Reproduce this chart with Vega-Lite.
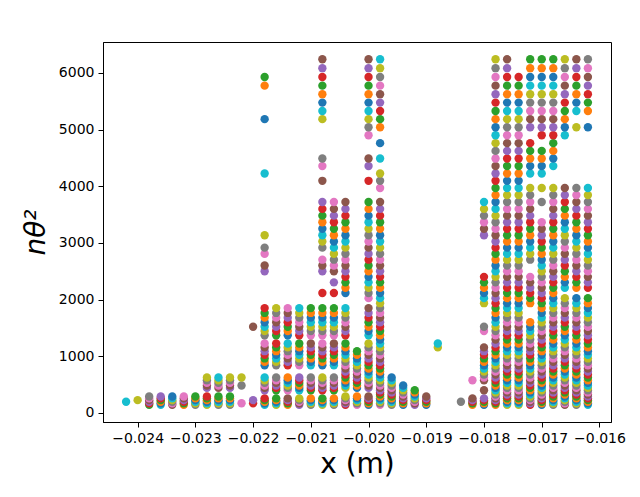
{
"$schema":"https://vega.github.io/schema/vega-lite/v6.json",
"width":508,"height":380,
"autosize":{"type":"none"},
"padding":{"left":103,"top":42,"right":29,"bottom":75},
"background":"white",
"config":{"view":{"stroke":"black","strokeWidth":1},"font":"DejaVu Sans"},
"data":{"values":[
{"x":-0.0242,"y":196,"c":9},
{"x":-0.024,"y":225,"c":8},
{"x":-0.0238,"y":144,"c":2},{"x":-0.0238,"y":169,"c":3},{"x":-0.0238,"y":196,"c":4},{"x":-0.0238,"y":225,"c":5},{"x":-0.0238,"y":256,"c":6},{"x":-0.0238,"y":289,"c":7},
{"x":-0.0236,"y":144,"c":9},{"x":-0.0236,"y":169,"c":0},{"x":-0.0236,"y":196,"c":1},{"x":-0.0236,"y":225,"c":2},{"x":-0.0236,"y":256,"c":3},{"x":-0.0236,"y":289,"c":4},
{"x":-0.0234,"y":144,"c":5},{"x":-0.0234,"y":169,"c":6},{"x":-0.0234,"y":196,"c":7},{"x":-0.0234,"y":225,"c":8},{"x":-0.0234,"y":256,"c":9},{"x":-0.0234,"y":289,"c":0},
{"x":-0.0232,"y":144,"c":1},{"x":-0.0232,"y":169,"c":2},{"x":-0.0232,"y":196,"c":3},{"x":-0.0232,"y":225,"c":4},{"x":-0.0232,"y":256,"c":5},{"x":-0.0232,"y":289,"c":6},
{"x":-0.023,"y":144,"c":7},{"x":-0.023,"y":169,"c":8},{"x":-0.023,"y":196,"c":9},{"x":-0.023,"y":225,"c":0},{"x":-0.023,"y":256,"c":1},{"x":-0.023,"y":289,"c":2},
{"x":-0.0228,"y":144,"c":8},{"x":-0.0228,"y":169,"c":9},{"x":-0.0228,"y":196,"c":0},{"x":-0.0228,"y":225,"c":1},{"x":-0.0228,"y":256,"c":2},{"x":-0.0228,"y":289,"c":3},{"x":-0.0228,"y":441,"c":4},{"x":-0.0228,"y":484,"c":5},{"x":-0.0228,"y":529,"c":6},{"x":-0.0228,"y":576,"c":7},{"x":-0.0228,"y":625,"c":8},
{"x":-0.0226,"y":144,"c":7},{"x":-0.0226,"y":169,"c":8},{"x":-0.0226,"y":196,"c":9},{"x":-0.0226,"y":225,"c":0},{"x":-0.0226,"y":256,"c":1},{"x":-0.0226,"y":289,"c":2},{"x":-0.0226,"y":441,"c":5},{"x":-0.0226,"y":484,"c":6},{"x":-0.0226,"y":529,"c":7},{"x":-0.0226,"y":576,"c":8},{"x":-0.0226,"y":625,"c":9},
{"x":-0.0224,"y":144,"c":7},{"x":-0.0224,"y":169,"c":8},{"x":-0.0224,"y":196,"c":9},{"x":-0.0224,"y":225,"c":0},{"x":-0.0224,"y":256,"c":1},{"x":-0.0224,"y":289,"c":2},{"x":-0.0224,"y":441,"c":4},{"x":-0.0224,"y":484,"c":5},{"x":-0.0224,"y":529,"c":6},{"x":-0.0224,"y":576,"c":7},{"x":-0.0224,"y":625,"c":8},
{"x":-0.0222,"y":169,"c":6},{"x":-0.0222,"y":484,"c":7},{"x":-0.0222,"y":625,"c":8},
{"x":-0.022,"y":169,"c":3},{"x":-0.022,"y":225,"c":4},{"x":-0.022,"y":1521,"c":5},
{"x":-0.0218,"y":144,"c":9},{"x":-0.0218,"y":169,"c":0},{"x":-0.0218,"y":196,"c":1},{"x":-0.0218,"y":225,"c":2},{"x":-0.0218,"y":256,"c":3},{"x":-0.0218,"y":400,"c":4},{"x":-0.0218,"y":441,"c":5},{"x":-0.0218,"y":484,"c":6},{"x":-0.0218,"y":529,"c":7},{"x":-0.0218,"y":576,"c":8},{"x":-0.0218,"y":625,"c":9},{"x":-0.0218,"y":841,"c":0},{"x":-0.0218,"y":900,"c":1},{"x":-0.0218,"y":961,"c":2},{"x":-0.0218,"y":1024,"c":3},{"x":-0.0218,"y":1089,"c":4},{"x":-0.0218,"y":1156,"c":5},{"x":-0.0218,"y":1225,"c":6},{"x":-0.0218,"y":1369,"c":7},{"x":-0.0218,"y":1444,"c":8},{"x":-0.0218,"y":1521,"c":9},{"x":-0.0218,"y":1600,"c":0},{"x":-0.0218,"y":1681,"c":1},{"x":-0.0218,"y":1764,"c":2},{"x":-0.0218,"y":1849,"c":3},{"x":-0.0218,"y":2500,"c":4},{"x":-0.0218,"y":2601,"c":5},{"x":-0.0218,"y":2809,"c":6},{"x":-0.0218,"y":2916,"c":7},{"x":-0.0218,"y":3136,"c":8},{"x":-0.0218,"y":4225,"c":9},{"x":-0.0218,"y":5184,"c":0},{"x":-0.0218,"y":5776,"c":1},{"x":-0.0218,"y":5929,"c":2},
{"x":-0.0216,"y":144,"c":8},{"x":-0.0216,"y":169,"c":9},{"x":-0.0216,"y":196,"c":0},{"x":-0.0216,"y":225,"c":1},{"x":-0.0216,"y":256,"c":2},{"x":-0.0216,"y":400,"c":2},{"x":-0.0216,"y":441,"c":3},{"x":-0.0216,"y":484,"c":4},{"x":-0.0216,"y":529,"c":5},{"x":-0.0216,"y":576,"c":6},{"x":-0.0216,"y":625,"c":7},{"x":-0.0216,"y":841,"c":7},{"x":-0.0216,"y":900,"c":8},{"x":-0.0216,"y":961,"c":9},{"x":-0.0216,"y":1024,"c":0},{"x":-0.0216,"y":1089,"c":1},{"x":-0.0216,"y":1156,"c":2},{"x":-0.0216,"y":1225,"c":3},{"x":-0.0216,"y":1369,"c":2},{"x":-0.0216,"y":1444,"c":3},{"x":-0.0216,"y":1521,"c":4},{"x":-0.0216,"y":1600,"c":5},{"x":-0.0216,"y":1681,"c":6},{"x":-0.0216,"y":1764,"c":7},{"x":-0.0216,"y":1849,"c":8},
{"x":-0.0214,"y":144,"c":1},{"x":-0.0214,"y":169,"c":2},{"x":-0.0214,"y":196,"c":3},{"x":-0.0214,"y":225,"c":4},{"x":-0.0214,"y":256,"c":5},{"x":-0.0214,"y":400,"c":6},{"x":-0.0214,"y":441,"c":7},{"x":-0.0214,"y":484,"c":8},{"x":-0.0214,"y":529,"c":9},{"x":-0.0214,"y":576,"c":0},{"x":-0.0214,"y":625,"c":1},{"x":-0.0214,"y":841,"c":3},{"x":-0.0214,"y":900,"c":4},{"x":-0.0214,"y":961,"c":5},{"x":-0.0214,"y":1024,"c":6},{"x":-0.0214,"y":1089,"c":7},{"x":-0.0214,"y":1156,"c":8},{"x":-0.0214,"y":1225,"c":9},{"x":-0.0214,"y":1369,"c":0},{"x":-0.0214,"y":1444,"c":1},{"x":-0.0214,"y":1521,"c":2},{"x":-0.0214,"y":1600,"c":3},{"x":-0.0214,"y":1681,"c":4},{"x":-0.0214,"y":1764,"c":5},{"x":-0.0214,"y":1849,"c":6},
{"x":-0.0212,"y":144,"c":4},{"x":-0.0212,"y":169,"c":5},{"x":-0.0212,"y":196,"c":6},{"x":-0.0212,"y":225,"c":7},{"x":-0.0212,"y":256,"c":8},{"x":-0.0212,"y":400,"c":9},{"x":-0.0212,"y":441,"c":0},{"x":-0.0212,"y":484,"c":1},{"x":-0.0212,"y":529,"c":2},{"x":-0.0212,"y":576,"c":3},{"x":-0.0212,"y":625,"c":4},{"x":-0.0212,"y":841,"c":6},{"x":-0.0212,"y":900,"c":7},{"x":-0.0212,"y":961,"c":8},{"x":-0.0212,"y":1024,"c":9},{"x":-0.0212,"y":1089,"c":0},{"x":-0.0212,"y":1156,"c":1},{"x":-0.0212,"y":1225,"c":2},{"x":-0.0212,"y":1369,"c":3},{"x":-0.0212,"y":1444,"c":4},{"x":-0.0212,"y":1521,"c":5},{"x":-0.0212,"y":1600,"c":6},{"x":-0.0212,"y":1681,"c":7},{"x":-0.0212,"y":1764,"c":8},{"x":-0.0212,"y":1849,"c":9},
{"x":-0.021,"y":144,"c":7},{"x":-0.021,"y":169,"c":8},{"x":-0.021,"y":196,"c":9},{"x":-0.021,"y":225,"c":0},{"x":-0.021,"y":256,"c":1},{"x":-0.021,"y":400,"c":2},{"x":-0.021,"y":441,"c":3},{"x":-0.021,"y":484,"c":4},{"x":-0.021,"y":529,"c":5},{"x":-0.021,"y":576,"c":6},{"x":-0.021,"y":625,"c":7},{"x":-0.021,"y":841,"c":9},{"x":-0.021,"y":900,"c":0},{"x":-0.021,"y":961,"c":1},{"x":-0.021,"y":1024,"c":2},{"x":-0.021,"y":1089,"c":3},{"x":-0.021,"y":1156,"c":4},{"x":-0.021,"y":1225,"c":5},{"x":-0.021,"y":1369,"c":6},{"x":-0.021,"y":1444,"c":7},{"x":-0.021,"y":1521,"c":8},{"x":-0.021,"y":1600,"c":9},{"x":-0.021,"y":1681,"c":0},{"x":-0.021,"y":1764,"c":1},{"x":-0.021,"y":1849,"c":2},
{"x":-0.0208,"y":144,"c":8},{"x":-0.0208,"y":169,"c":9},{"x":-0.0208,"y":196,"c":0},{"x":-0.0208,"y":225,"c":1},{"x":-0.0208,"y":256,"c":2},{"x":-0.0208,"y":400,"c":3},{"x":-0.0208,"y":441,"c":4},{"x":-0.0208,"y":484,"c":5},{"x":-0.0208,"y":529,"c":6},{"x":-0.0208,"y":576,"c":7},{"x":-0.0208,"y":625,"c":8},{"x":-0.0208,"y":841,"c":0},{"x":-0.0208,"y":900,"c":1},{"x":-0.0208,"y":961,"c":2},{"x":-0.0208,"y":1024,"c":3},{"x":-0.0208,"y":1089,"c":4},{"x":-0.0208,"y":1156,"c":5},{"x":-0.0208,"y":1225,"c":6},{"x":-0.0208,"y":1369,"c":6},{"x":-0.0208,"y":1444,"c":7},{"x":-0.0208,"y":1521,"c":8},{"x":-0.0208,"y":1600,"c":9},{"x":-0.0208,"y":1681,"c":0},{"x":-0.0208,"y":1764,"c":1},{"x":-0.0208,"y":1849,"c":2},{"x":-0.0208,"y":2116,"c":3},{"x":-0.0208,"y":2500,"c":4},{"x":-0.0208,"y":2601,"c":5},{"x":-0.0208,"y":2704,"c":6},{"x":-0.0208,"y":2916,"c":7},{"x":-0.0208,"y":3025,"c":8},{"x":-0.0208,"y":3136,"c":9},{"x":-0.0208,"y":3249,"c":0},{"x":-0.0208,"y":3364,"c":1},{"x":-0.0208,"y":3481,"c":2},{"x":-0.0208,"y":3600,"c":3},{"x":-0.0208,"y":3721,"c":4},{"x":-0.0208,"y":4096,"c":5},{"x":-0.0208,"y":4356,"c":6},{"x":-0.0208,"y":4489,"c":7},{"x":-0.0208,"y":5184,"c":8},{"x":-0.0208,"y":5329,"c":9},{"x":-0.0208,"y":5476,"c":0},{"x":-0.0208,"y":5625,"c":1},{"x":-0.0208,"y":5776,"c":2},{"x":-0.0208,"y":5929,"c":3},{"x":-0.0208,"y":6084,"c":4},{"x":-0.0208,"y":6241,"c":5},
{"x":-0.0206,"y":144,"c":7},{"x":-0.0206,"y":169,"c":8},{"x":-0.0206,"y":196,"c":9},{"x":-0.0206,"y":225,"c":0},{"x":-0.0206,"y":256,"c":1},{"x":-0.0206,"y":400,"c":2},{"x":-0.0206,"y":441,"c":3},{"x":-0.0206,"y":484,"c":4},{"x":-0.0206,"y":529,"c":5},{"x":-0.0206,"y":576,"c":6},{"x":-0.0206,"y":625,"c":7},{"x":-0.0206,"y":841,"c":9},{"x":-0.0206,"y":900,"c":0},{"x":-0.0206,"y":961,"c":1},{"x":-0.0206,"y":1024,"c":2},{"x":-0.0206,"y":1089,"c":3},{"x":-0.0206,"y":1156,"c":4},{"x":-0.0206,"y":1225,"c":5},{"x":-0.0206,"y":1369,"c":6},{"x":-0.0206,"y":1444,"c":7},{"x":-0.0206,"y":1521,"c":8},{"x":-0.0206,"y":1600,"c":9},{"x":-0.0206,"y":1681,"c":0},{"x":-0.0206,"y":1764,"c":1},{"x":-0.0206,"y":1849,"c":2},{"x":-0.0206,"y":2116,"c":3},{"x":-0.0206,"y":2304,"c":4},{"x":-0.0206,"y":2500,"c":5},{"x":-0.0206,"y":2601,"c":6},{"x":-0.0206,"y":2704,"c":7},{"x":-0.0206,"y":2809,"c":8},{"x":-0.0206,"y":2916,"c":9},{"x":-0.0206,"y":3025,"c":0},{"x":-0.0206,"y":3136,"c":1},{"x":-0.0206,"y":3249,"c":2},{"x":-0.0206,"y":3364,"c":3},{"x":-0.0206,"y":3481,"c":4},{"x":-0.0206,"y":3600,"c":5},{"x":-0.0206,"y":3721,"c":6},
{"x":-0.0204,"y":144,"c":3},{"x":-0.0204,"y":169,"c":4},{"x":-0.0204,"y":196,"c":5},{"x":-0.0204,"y":225,"c":6},{"x":-0.0204,"y":256,"c":7},{"x":-0.0204,"y":289,"c":8},{"x":-0.0204,"y":441,"c":8},{"x":-0.0204,"y":484,"c":9},{"x":-0.0204,"y":529,"c":0},{"x":-0.0204,"y":576,"c":1},{"x":-0.0204,"y":625,"c":2},{"x":-0.0204,"y":676,"c":3},{"x":-0.0204,"y":729,"c":4},{"x":-0.0204,"y":784,"c":5},{"x":-0.0204,"y":841,"c":6},{"x":-0.0204,"y":900,"c":7},{"x":-0.0204,"y":961,"c":8},{"x":-0.0204,"y":1024,"c":9},{"x":-0.0204,"y":1089,"c":0},{"x":-0.0204,"y":1156,"c":1},{"x":-0.0204,"y":1225,"c":2},{"x":-0.0204,"y":1369,"c":3},{"x":-0.0204,"y":1444,"c":4},{"x":-0.0204,"y":1521,"c":5},{"x":-0.0204,"y":1600,"c":6},{"x":-0.0204,"y":1681,"c":7},{"x":-0.0204,"y":1764,"c":8},{"x":-0.0204,"y":1849,"c":9},{"x":-0.0204,"y":2116,"c":0},{"x":-0.0204,"y":2209,"c":1},{"x":-0.0204,"y":2304,"c":2},{"x":-0.0204,"y":2401,"c":3},{"x":-0.0204,"y":2500,"c":4},{"x":-0.0204,"y":2601,"c":5},{"x":-0.0204,"y":2704,"c":6},{"x":-0.0204,"y":2809,"c":7},{"x":-0.0204,"y":2916,"c":8},{"x":-0.0204,"y":3025,"c":9},{"x":-0.0204,"y":3136,"c":0},{"x":-0.0204,"y":3249,"c":1},{"x":-0.0204,"y":3364,"c":2},{"x":-0.0204,"y":3481,"c":3},{"x":-0.0204,"y":3600,"c":4},{"x":-0.0204,"y":3721,"c":5},
{"x":-0.0202,"y":144,"c":6},{"x":-0.0202,"y":169,"c":7},{"x":-0.0202,"y":196,"c":8},{"x":-0.0202,"y":225,"c":9},{"x":-0.0202,"y":256,"c":0},{"x":-0.0202,"y":289,"c":1},{"x":-0.0202,"y":441,"c":0},{"x":-0.0202,"y":484,"c":1},{"x":-0.0202,"y":529,"c":2},{"x":-0.0202,"y":576,"c":3},{"x":-0.0202,"y":625,"c":4},{"x":-0.0202,"y":676,"c":5},{"x":-0.0202,"y":729,"c":6},{"x":-0.0202,"y":784,"c":7},{"x":-0.0202,"y":841,"c":8},{"x":-0.0202,"y":900,"c":9},{"x":-0.0202,"y":961,"c":0},{"x":-0.0202,"y":1024,"c":1},{"x":-0.0202,"y":1089,"c":2},
{"x":-0.02,"y":144,"c":0},{"x":-0.02,"y":169,"c":1},{"x":-0.02,"y":196,"c":2},{"x":-0.02,"y":225,"c":3},{"x":-0.02,"y":256,"c":4},{"x":-0.02,"y":289,"c":5},{"x":-0.02,"y":441,"c":4},{"x":-0.02,"y":484,"c":5},{"x":-0.02,"y":529,"c":6},{"x":-0.02,"y":576,"c":7},{"x":-0.02,"y":625,"c":8},{"x":-0.02,"y":676,"c":9},{"x":-0.02,"y":729,"c":0},{"x":-0.02,"y":784,"c":1},{"x":-0.02,"y":841,"c":2},{"x":-0.02,"y":900,"c":3},{"x":-0.02,"y":961,"c":4},{"x":-0.02,"y":1024,"c":5},{"x":-0.02,"y":1089,"c":6},{"x":-0.02,"y":1156,"c":7},{"x":-0.02,"y":1225,"c":8},{"x":-0.02,"y":1369,"c":9},{"x":-0.02,"y":1444,"c":0},{"x":-0.02,"y":1521,"c":1},{"x":-0.02,"y":1600,"c":2},{"x":-0.02,"y":1681,"c":3},{"x":-0.02,"y":1764,"c":4},{"x":-0.02,"y":1849,"c":5},{"x":-0.02,"y":2025,"c":6},{"x":-0.02,"y":2116,"c":7},{"x":-0.02,"y":2209,"c":8},{"x":-0.02,"y":2304,"c":9},{"x":-0.02,"y":2401,"c":0},{"x":-0.02,"y":2500,"c":1},{"x":-0.02,"y":2601,"c":2},{"x":-0.02,"y":2704,"c":3},{"x":-0.02,"y":2809,"c":4},{"x":-0.02,"y":2916,"c":5},{"x":-0.02,"y":3025,"c":6},{"x":-0.02,"y":3136,"c":7},{"x":-0.02,"y":3249,"c":8},{"x":-0.02,"y":3364,"c":9},{"x":-0.02,"y":3481,"c":0},{"x":-0.02,"y":3600,"c":1},{"x":-0.02,"y":3721,"c":2},{"x":-0.02,"y":4096,"c":3},{"x":-0.02,"y":4356,"c":4},{"x":-0.02,"y":4489,"c":5},{"x":-0.02,"y":4900,"c":6},{"x":-0.02,"y":5041,"c":7},{"x":-0.02,"y":5184,"c":8},{"x":-0.02,"y":5329,"c":9},{"x":-0.02,"y":5476,"c":0},{"x":-0.02,"y":5625,"c":1},{"x":-0.02,"y":5776,"c":2},{"x":-0.02,"y":5929,"c":3},{"x":-0.02,"y":6084,"c":4},{"x":-0.02,"y":6241,"c":5},
{"x":-0.0198,"y":144,"c":6},{"x":-0.0198,"y":169,"c":7},{"x":-0.0198,"y":196,"c":8},{"x":-0.0198,"y":225,"c":9},{"x":-0.0198,"y":256,"c":0},{"x":-0.0198,"y":289,"c":1},{"x":-0.0198,"y":324,"c":2},{"x":-0.0198,"y":361,"c":3},{"x":-0.0198,"y":400,"c":4},{"x":-0.0198,"y":441,"c":5},{"x":-0.0198,"y":484,"c":6},{"x":-0.0198,"y":529,"c":7},{"x":-0.0198,"y":576,"c":8},{"x":-0.0198,"y":625,"c":9},{"x":-0.0198,"y":676,"c":0},{"x":-0.0198,"y":729,"c":1},{"x":-0.0198,"y":784,"c":2},{"x":-0.0198,"y":841,"c":3},{"x":-0.0198,"y":900,"c":4},{"x":-0.0198,"y":961,"c":5},{"x":-0.0198,"y":1024,"c":6},{"x":-0.0198,"y":1089,"c":7},{"x":-0.0198,"y":1156,"c":8},{"x":-0.0198,"y":1225,"c":9},{"x":-0.0198,"y":1296,"c":0},{"x":-0.0198,"y":1369,"c":1},{"x":-0.0198,"y":1444,"c":2},{"x":-0.0198,"y":1521,"c":3},{"x":-0.0198,"y":1600,"c":4},{"x":-0.0198,"y":1681,"c":5},{"x":-0.0198,"y":1764,"c":6},{"x":-0.0198,"y":1849,"c":7},{"x":-0.0198,"y":1936,"c":8},{"x":-0.0198,"y":2025,"c":9},{"x":-0.0198,"y":2116,"c":0},{"x":-0.0198,"y":2209,"c":1},{"x":-0.0198,"y":2304,"c":2},{"x":-0.0198,"y":2401,"c":3},{"x":-0.0198,"y":2500,"c":4},{"x":-0.0198,"y":2601,"c":5},{"x":-0.0198,"y":2704,"c":6},{"x":-0.0198,"y":2809,"c":7},{"x":-0.0198,"y":2916,"c":8},{"x":-0.0198,"y":3025,"c":9},{"x":-0.0198,"y":3136,"c":0},{"x":-0.0198,"y":3249,"c":1},{"x":-0.0198,"y":3364,"c":2},{"x":-0.0198,"y":3481,"c":3},{"x":-0.0198,"y":3600,"c":4},{"x":-0.0198,"y":3721,"c":5},{"x":-0.0198,"y":3969,"c":6},{"x":-0.0198,"y":4096,"c":7},{"x":-0.0198,"y":4225,"c":8},{"x":-0.0198,"y":4489,"c":9},{"x":-0.0198,"y":4761,"c":0},{"x":-0.0198,"y":5041,"c":1},{"x":-0.0198,"y":5184,"c":2},{"x":-0.0198,"y":5329,"c":3},{"x":-0.0198,"y":5476,"c":4},{"x":-0.0198,"y":5625,"c":5},{"x":-0.0198,"y":5776,"c":6},{"x":-0.0198,"y":5929,"c":7},{"x":-0.0198,"y":6084,"c":8},{"x":-0.0198,"y":6241,"c":9},
{"x":-0.0196,"y":144,"c":7},{"x":-0.0196,"y":169,"c":8},{"x":-0.0196,"y":196,"c":9},{"x":-0.0196,"y":225,"c":0},{"x":-0.0196,"y":256,"c":1},{"x":-0.0196,"y":289,"c":2},{"x":-0.0196,"y":324,"c":3},{"x":-0.0196,"y":361,"c":4},{"x":-0.0196,"y":400,"c":5},{"x":-0.0196,"y":441,"c":6},{"x":-0.0196,"y":484,"c":7},{"x":-0.0196,"y":529,"c":8},{"x":-0.0196,"y":576,"c":9},{"x":-0.0196,"y":625,"c":0},
{"x":-0.0194,"y":144,"c":0},{"x":-0.0194,"y":169,"c":1},{"x":-0.0194,"y":196,"c":2},{"x":-0.0194,"y":225,"c":3},{"x":-0.0194,"y":256,"c":4},{"x":-0.0194,"y":289,"c":5},{"x":-0.0194,"y":324,"c":6},{"x":-0.0194,"y":361,"c":7},{"x":-0.0194,"y":400,"c":8},{"x":-0.0194,"y":441,"c":9},{"x":-0.0194,"y":484,"c":0},
{"x":-0.0192,"y":144,"c":4},{"x":-0.0192,"y":169,"c":5},{"x":-0.0192,"y":196,"c":6},{"x":-0.0192,"y":225,"c":7},{"x":-0.0192,"y":256,"c":8},{"x":-0.0192,"y":289,"c":9},{"x":-0.0192,"y":324,"c":0},{"x":-0.0192,"y":361,"c":1},{"x":-0.0192,"y":400,"c":2},
{"x":-0.019,"y":144,"c":0},{"x":-0.019,"y":169,"c":1},{"x":-0.019,"y":196,"c":2},{"x":-0.019,"y":225,"c":3},{"x":-0.019,"y":256,"c":4},{"x":-0.019,"y":289,"c":5},
{"x":-0.0188,"y":1156,"c":8},{"x":-0.0188,"y":1225,"c":9},
{"x":-0.0184,"y":196,"c":7},
{"x":-0.0182,"y":144,"c":1},{"x":-0.0182,"y":169,"c":2},{"x":-0.0182,"y":196,"c":3},{"x":-0.0182,"y":225,"c":4},{"x":-0.0182,"y":256,"c":5},{"x":-0.0182,"y":576,"c":6},
{"x":-0.018,"y":144,"c":0},{"x":-0.018,"y":169,"c":1},{"x":-0.018,"y":196,"c":2},{"x":-0.018,"y":225,"c":3},{"x":-0.018,"y":256,"c":4},{"x":-0.018,"y":400,"c":5},{"x":-0.018,"y":576,"c":5},{"x":-0.018,"y":625,"c":6},{"x":-0.018,"y":676,"c":7},{"x":-0.018,"y":729,"c":8},{"x":-0.018,"y":784,"c":9},{"x":-0.018,"y":841,"c":0},{"x":-0.018,"y":900,"c":1},{"x":-0.018,"y":961,"c":2},{"x":-0.018,"y":1024,"c":3},{"x":-0.018,"y":1089,"c":4},{"x":-0.018,"y":1156,"c":5},{"x":-0.018,"y":1444,"c":6},{"x":-0.018,"y":1521,"c":7},{"x":-0.018,"y":1936,"c":8},{"x":-0.018,"y":2025,"c":9},{"x":-0.018,"y":2116,"c":0},{"x":-0.018,"y":2209,"c":1},{"x":-0.018,"y":2304,"c":2},{"x":-0.018,"y":2401,"c":3},{"x":-0.018,"y":3136,"c":4},{"x":-0.018,"y":3249,"c":5},{"x":-0.018,"y":3364,"c":6},{"x":-0.018,"y":3481,"c":7},{"x":-0.018,"y":3600,"c":8},{"x":-0.018,"y":3721,"c":9},
{"x":-0.0178,"y":144,"c":1},{"x":-0.0178,"y":169,"c":2},{"x":-0.0178,"y":196,"c":3},{"x":-0.0178,"y":225,"c":4},{"x":-0.0178,"y":256,"c":5},{"x":-0.0178,"y":289,"c":6},{"x":-0.0178,"y":324,"c":7},{"x":-0.0178,"y":361,"c":8},{"x":-0.0178,"y":400,"c":9},{"x":-0.0178,"y":441,"c":0},{"x":-0.0178,"y":484,"c":1},{"x":-0.0178,"y":529,"c":2},{"x":-0.0178,"y":576,"c":3},{"x":-0.0178,"y":625,"c":4},{"x":-0.0178,"y":676,"c":5},{"x":-0.0178,"y":729,"c":6},{"x":-0.0178,"y":784,"c":7},{"x":-0.0178,"y":841,"c":8},{"x":-0.0178,"y":900,"c":9},{"x":-0.0178,"y":961,"c":0},{"x":-0.0178,"y":1024,"c":1},{"x":-0.0178,"y":1089,"c":2},{"x":-0.0178,"y":1156,"c":3},{"x":-0.0178,"y":1225,"c":4},{"x":-0.0178,"y":1296,"c":5},{"x":-0.0178,"y":1369,"c":6},{"x":-0.0178,"y":1444,"c":7},{"x":-0.0178,"y":1521,"c":8},{"x":-0.0178,"y":1600,"c":9},{"x":-0.0178,"y":1681,"c":0},{"x":-0.0178,"y":1764,"c":1},{"x":-0.0178,"y":1849,"c":2},{"x":-0.0178,"y":1936,"c":3},{"x":-0.0178,"y":2025,"c":4},{"x":-0.0178,"y":2116,"c":5},{"x":-0.0178,"y":2209,"c":6},{"x":-0.0178,"y":2304,"c":7},{"x":-0.0178,"y":2401,"c":8},{"x":-0.0178,"y":2500,"c":9},{"x":-0.0178,"y":2601,"c":0},{"x":-0.0178,"y":2704,"c":1},{"x":-0.0178,"y":2809,"c":2},{"x":-0.0178,"y":2916,"c":3},{"x":-0.0178,"y":3025,"c":4},{"x":-0.0178,"y":3136,"c":5},{"x":-0.0178,"y":3249,"c":6},{"x":-0.0178,"y":3364,"c":7},{"x":-0.0178,"y":3481,"c":8},{"x":-0.0178,"y":3600,"c":9},{"x":-0.0178,"y":3721,"c":0},{"x":-0.0178,"y":3844,"c":1},{"x":-0.0178,"y":3969,"c":2},{"x":-0.0178,"y":4096,"c":3},{"x":-0.0178,"y":4225,"c":4},{"x":-0.0178,"y":4356,"c":5},{"x":-0.0178,"y":4489,"c":6},{"x":-0.0178,"y":4624,"c":7},{"x":-0.0178,"y":4761,"c":8},{"x":-0.0178,"y":4900,"c":9},{"x":-0.0178,"y":5041,"c":0},{"x":-0.0178,"y":5184,"c":1},{"x":-0.0178,"y":5329,"c":2},{"x":-0.0178,"y":5476,"c":3},{"x":-0.0178,"y":5625,"c":4},{"x":-0.0178,"y":5776,"c":5},{"x":-0.0178,"y":5929,"c":6},{"x":-0.0178,"y":6084,"c":7},{"x":-0.0178,"y":6241,"c":8},
{"x":-0.0176,"y":144,"c":8},{"x":-0.0176,"y":169,"c":9},{"x":-0.0176,"y":196,"c":0},{"x":-0.0176,"y":225,"c":1},{"x":-0.0176,"y":256,"c":2},{"x":-0.0176,"y":289,"c":3},{"x":-0.0176,"y":324,"c":4},{"x":-0.0176,"y":361,"c":5},{"x":-0.0176,"y":400,"c":6},{"x":-0.0176,"y":441,"c":7},{"x":-0.0176,"y":484,"c":8},{"x":-0.0176,"y":529,"c":9},{"x":-0.0176,"y":576,"c":0},{"x":-0.0176,"y":625,"c":1},{"x":-0.0176,"y":676,"c":2},{"x":-0.0176,"y":729,"c":3},{"x":-0.0176,"y":784,"c":4},{"x":-0.0176,"y":841,"c":5},{"x":-0.0176,"y":900,"c":6},{"x":-0.0176,"y":961,"c":7},{"x":-0.0176,"y":1024,"c":8},{"x":-0.0176,"y":1089,"c":9},{"x":-0.0176,"y":1156,"c":0},{"x":-0.0176,"y":1225,"c":1},{"x":-0.0176,"y":1296,"c":2},{"x":-0.0176,"y":1369,"c":3},{"x":-0.0176,"y":1444,"c":4},{"x":-0.0176,"y":1521,"c":5},{"x":-0.0176,"y":1600,"c":6},{"x":-0.0176,"y":1681,"c":7},{"x":-0.0176,"y":1764,"c":8},{"x":-0.0176,"y":1849,"c":9},{"x":-0.0176,"y":1936,"c":0},{"x":-0.0176,"y":2025,"c":1},{"x":-0.0176,"y":2116,"c":2},{"x":-0.0176,"y":2209,"c":3},{"x":-0.0176,"y":2304,"c":4},{"x":-0.0176,"y":2401,"c":5},{"x":-0.0176,"y":2500,"c":6},{"x":-0.0176,"y":2601,"c":7},{"x":-0.0176,"y":2704,"c":8},{"x":-0.0176,"y":2809,"c":9},{"x":-0.0176,"y":2916,"c":0},{"x":-0.0176,"y":3025,"c":1},{"x":-0.0176,"y":3136,"c":2},{"x":-0.0176,"y":3249,"c":3},{"x":-0.0176,"y":3364,"c":4},{"x":-0.0176,"y":3481,"c":5},{"x":-0.0176,"y":3600,"c":6},{"x":-0.0176,"y":3721,"c":7},{"x":-0.0176,"y":3844,"c":8},{"x":-0.0176,"y":3969,"c":9},{"x":-0.0176,"y":4096,"c":0},{"x":-0.0176,"y":4225,"c":1},{"x":-0.0176,"y":4356,"c":2},{"x":-0.0176,"y":4489,"c":3},{"x":-0.0176,"y":4624,"c":4},{"x":-0.0176,"y":4761,"c":5},{"x":-0.0176,"y":4900,"c":6},{"x":-0.0176,"y":5041,"c":7},{"x":-0.0176,"y":5184,"c":8},{"x":-0.0176,"y":5329,"c":9},{"x":-0.0176,"y":5476,"c":0},{"x":-0.0176,"y":5625,"c":1},{"x":-0.0176,"y":5776,"c":2},{"x":-0.0176,"y":5929,"c":3},{"x":-0.0176,"y":6084,"c":4},{"x":-0.0176,"y":6241,"c":5},
{"x":-0.0174,"y":144,"c":8},{"x":-0.0174,"y":169,"c":9},{"x":-0.0174,"y":196,"c":0},{"x":-0.0174,"y":225,"c":1},{"x":-0.0174,"y":256,"c":2},{"x":-0.0174,"y":289,"c":3},{"x":-0.0174,"y":324,"c":4},{"x":-0.0174,"y":361,"c":5},{"x":-0.0174,"y":400,"c":6},{"x":-0.0174,"y":441,"c":7},{"x":-0.0174,"y":484,"c":8},{"x":-0.0174,"y":529,"c":9},{"x":-0.0174,"y":576,"c":0},{"x":-0.0174,"y":625,"c":1},{"x":-0.0174,"y":676,"c":2},{"x":-0.0174,"y":729,"c":3},{"x":-0.0174,"y":784,"c":4},{"x":-0.0174,"y":841,"c":5},{"x":-0.0174,"y":900,"c":6},{"x":-0.0174,"y":961,"c":7},{"x":-0.0174,"y":1024,"c":8},{"x":-0.0174,"y":1089,"c":9},{"x":-0.0174,"y":1156,"c":0},{"x":-0.0174,"y":1225,"c":1},{"x":-0.0174,"y":1296,"c":2},{"x":-0.0174,"y":1369,"c":3},{"x":-0.0174,"y":1444,"c":4},{"x":-0.0174,"y":1521,"c":5},{"x":-0.0174,"y":1600,"c":6},{"x":-0.0174,"y":1681,"c":7},{"x":-0.0174,"y":1764,"c":8},{"x":-0.0174,"y":1849,"c":9},{"x":-0.0174,"y":1936,"c":0},{"x":-0.0174,"y":2025,"c":1},{"x":-0.0174,"y":2116,"c":2},{"x":-0.0174,"y":2209,"c":3},{"x":-0.0174,"y":2304,"c":4},{"x":-0.0174,"y":2401,"c":5},{"x":-0.0174,"y":2500,"c":6},{"x":-0.0174,"y":2601,"c":7},{"x":-0.0174,"y":2704,"c":8},{"x":-0.0174,"y":2809,"c":9},{"x":-0.0174,"y":2916,"c":0},{"x":-0.0174,"y":3025,"c":1},{"x":-0.0174,"y":3136,"c":2},{"x":-0.0174,"y":3249,"c":3},{"x":-0.0174,"y":3364,"c":4},{"x":-0.0174,"y":3481,"c":5},{"x":-0.0174,"y":3600,"c":6},{"x":-0.0174,"y":3721,"c":7},{"x":-0.0174,"y":3844,"c":8},{"x":-0.0174,"y":3969,"c":9},{"x":-0.0174,"y":4096,"c":0},{"x":-0.0174,"y":4225,"c":1},{"x":-0.0174,"y":4356,"c":2},{"x":-0.0174,"y":4489,"c":3},{"x":-0.0174,"y":4624,"c":4},{"x":-0.0174,"y":4761,"c":5},{"x":-0.0174,"y":4900,"c":6},{"x":-0.0174,"y":5041,"c":7},{"x":-0.0174,"y":5184,"c":8},{"x":-0.0174,"y":5329,"c":9},{"x":-0.0174,"y":5476,"c":0},{"x":-0.0174,"y":5625,"c":1},{"x":-0.0174,"y":5776,"c":2},{"x":-0.0174,"y":5929,"c":3},
{"x":-0.0172,"y":144,"c":3},{"x":-0.0172,"y":169,"c":4},{"x":-0.0172,"y":196,"c":5},{"x":-0.0172,"y":225,"c":6},{"x":-0.0172,"y":256,"c":7},{"x":-0.0172,"y":289,"c":8},{"x":-0.0172,"y":324,"c":9},{"x":-0.0172,"y":361,"c":0},{"x":-0.0172,"y":400,"c":1},{"x":-0.0172,"y":441,"c":2},{"x":-0.0172,"y":484,"c":3},{"x":-0.0172,"y":529,"c":4},{"x":-0.0172,"y":576,"c":5},{"x":-0.0172,"y":625,"c":6},{"x":-0.0172,"y":676,"c":7},{"x":-0.0172,"y":729,"c":8},{"x":-0.0172,"y":784,"c":9},{"x":-0.0172,"y":841,"c":0},{"x":-0.0172,"y":900,"c":1},{"x":-0.0172,"y":961,"c":2},{"x":-0.0172,"y":1024,"c":3},{"x":-0.0172,"y":1089,"c":4},{"x":-0.0172,"y":1156,"c":5},{"x":-0.0172,"y":1225,"c":6},{"x":-0.0172,"y":1296,"c":7},{"x":-0.0172,"y":1369,"c":8},{"x":-0.0172,"y":1444,"c":9},{"x":-0.0172,"y":1521,"c":0},{"x":-0.0172,"y":1600,"c":1},{"x":-0.0172,"y":1936,"c":1},{"x":-0.0172,"y":2025,"c":2},{"x":-0.0172,"y":2116,"c":3},{"x":-0.0172,"y":2209,"c":4},{"x":-0.0172,"y":2304,"c":5},{"x":-0.0172,"y":2401,"c":6},{"x":-0.0172,"y":2704,"c":7},{"x":-0.0172,"y":2809,"c":8},{"x":-0.0172,"y":2916,"c":9},{"x":-0.0172,"y":3025,"c":0},{"x":-0.0172,"y":3136,"c":1},{"x":-0.0172,"y":3249,"c":2},{"x":-0.0172,"y":3364,"c":3},{"x":-0.0172,"y":3481,"c":4},{"x":-0.0172,"y":3600,"c":5},{"x":-0.0172,"y":3721,"c":6},{"x":-0.0172,"y":3844,"c":7},{"x":-0.0172,"y":3969,"c":8},{"x":-0.0172,"y":4225,"c":9},{"x":-0.0172,"y":4356,"c":0},{"x":-0.0172,"y":4489,"c":1},{"x":-0.0172,"y":4624,"c":2},{"x":-0.0172,"y":4761,"c":3},{"x":-0.0172,"y":5041,"c":4},{"x":-0.0172,"y":5184,"c":5},{"x":-0.0172,"y":5329,"c":6},{"x":-0.0172,"y":5476,"c":7},{"x":-0.0172,"y":5625,"c":8},{"x":-0.0172,"y":5776,"c":9},{"x":-0.0172,"y":5929,"c":0},{"x":-0.0172,"y":6084,"c":1},{"x":-0.0172,"y":6241,"c":2},
{"x":-0.017,"y":144,"c":0},{"x":-0.017,"y":169,"c":1},{"x":-0.017,"y":196,"c":2},{"x":-0.017,"y":225,"c":3},{"x":-0.017,"y":256,"c":4},{"x":-0.017,"y":289,"c":5},{"x":-0.017,"y":324,"c":6},{"x":-0.017,"y":361,"c":7},{"x":-0.017,"y":400,"c":8},{"x":-0.017,"y":441,"c":9},{"x":-0.017,"y":484,"c":0},{"x":-0.017,"y":529,"c":1},{"x":-0.017,"y":576,"c":2},{"x":-0.017,"y":625,"c":3},{"x":-0.017,"y":676,"c":4},{"x":-0.017,"y":729,"c":5},{"x":-0.017,"y":784,"c":6},{"x":-0.017,"y":841,"c":7},{"x":-0.017,"y":900,"c":8},{"x":-0.017,"y":961,"c":9},{"x":-0.017,"y":1024,"c":0},{"x":-0.017,"y":1089,"c":1},{"x":-0.017,"y":1156,"c":2},{"x":-0.017,"y":1225,"c":3},{"x":-0.017,"y":1296,"c":4},{"x":-0.017,"y":1369,"c":5},{"x":-0.017,"y":1444,"c":6},{"x":-0.017,"y":1521,"c":7},{"x":-0.017,"y":1600,"c":8},{"x":-0.017,"y":1681,"c":9},{"x":-0.017,"y":1764,"c":0},{"x":-0.017,"y":1849,"c":1},{"x":-0.017,"y":1936,"c":2},{"x":-0.017,"y":2025,"c":3},{"x":-0.017,"y":2116,"c":4},{"x":-0.017,"y":2209,"c":5},{"x":-0.017,"y":2304,"c":6},{"x":-0.017,"y":2401,"c":7},{"x":-0.017,"y":2500,"c":8},{"x":-0.017,"y":2601,"c":9},{"x":-0.017,"y":2704,"c":0},{"x":-0.017,"y":2809,"c":1},{"x":-0.017,"y":2916,"c":2},{"x":-0.017,"y":3025,"c":3},{"x":-0.017,"y":3136,"c":4},{"x":-0.017,"y":3249,"c":5},{"x":-0.017,"y":3364,"c":6},{"x":-0.017,"y":3721,"c":7},{"x":-0.017,"y":3969,"c":8},{"x":-0.017,"y":4225,"c":9},{"x":-0.017,"y":4356,"c":0},{"x":-0.017,"y":4489,"c":1},{"x":-0.017,"y":4624,"c":2},{"x":-0.017,"y":4900,"c":3},{"x":-0.017,"y":5041,"c":4},{"x":-0.017,"y":5184,"c":5},{"x":-0.017,"y":5329,"c":6},{"x":-0.017,"y":5476,"c":7},{"x":-0.017,"y":5625,"c":8},{"x":-0.017,"y":5776,"c":9},{"x":-0.017,"y":5929,"c":0},{"x":-0.017,"y":6084,"c":1},{"x":-0.017,"y":6241,"c":2},
{"x":-0.0168,"y":144,"c":7},{"x":-0.0168,"y":169,"c":8},{"x":-0.0168,"y":196,"c":9},{"x":-0.0168,"y":225,"c":0},{"x":-0.0168,"y":256,"c":1},{"x":-0.0168,"y":289,"c":2},{"x":-0.0168,"y":324,"c":3},{"x":-0.0168,"y":361,"c":4},{"x":-0.0168,"y":400,"c":5},{"x":-0.0168,"y":441,"c":6},{"x":-0.0168,"y":484,"c":7},{"x":-0.0168,"y":529,"c":8},{"x":-0.0168,"y":576,"c":9},{"x":-0.0168,"y":625,"c":0},{"x":-0.0168,"y":676,"c":1},{"x":-0.0168,"y":729,"c":2},{"x":-0.0168,"y":784,"c":3},{"x":-0.0168,"y":841,"c":4},{"x":-0.0168,"y":900,"c":5},{"x":-0.0168,"y":961,"c":6},{"x":-0.0168,"y":1024,"c":7},{"x":-0.0168,"y":1089,"c":8},{"x":-0.0168,"y":1156,"c":9},{"x":-0.0168,"y":1225,"c":0},{"x":-0.0168,"y":1296,"c":1},{"x":-0.0168,"y":1369,"c":2},{"x":-0.0168,"y":1444,"c":3},{"x":-0.0168,"y":1521,"c":4},{"x":-0.0168,"y":1600,"c":5},{"x":-0.0168,"y":1681,"c":6},{"x":-0.0168,"y":1764,"c":7},{"x":-0.0168,"y":1849,"c":8},{"x":-0.0168,"y":1936,"c":9},{"x":-0.0168,"y":2025,"c":0},{"x":-0.0168,"y":2116,"c":1},{"x":-0.0168,"y":2209,"c":2},{"x":-0.0168,"y":2304,"c":3},{"x":-0.0168,"y":2401,"c":4},{"x":-0.0168,"y":2500,"c":5},{"x":-0.0168,"y":2601,"c":6},{"x":-0.0168,"y":2704,"c":7},{"x":-0.0168,"y":2809,"c":8},{"x":-0.0168,"y":2916,"c":9},{"x":-0.0168,"y":3025,"c":0},{"x":-0.0168,"y":3136,"c":1},{"x":-0.0168,"y":3249,"c":2},{"x":-0.0168,"y":3364,"c":3},{"x":-0.0168,"y":3481,"c":4},{"x":-0.0168,"y":3600,"c":5},{"x":-0.0168,"y":3721,"c":6},{"x":-0.0168,"y":3844,"c":7},{"x":-0.0168,"y":3969,"c":8},{"x":-0.0168,"y":4356,"c":9},{"x":-0.0168,"y":4489,"c":0},{"x":-0.0168,"y":4624,"c":1},{"x":-0.0168,"y":4761,"c":2},{"x":-0.0168,"y":4900,"c":3},{"x":-0.0168,"y":5041,"c":4},{"x":-0.0168,"y":5184,"c":5},{"x":-0.0168,"y":5329,"c":6},{"x":-0.0168,"y":5476,"c":7},{"x":-0.0168,"y":5625,"c":8},{"x":-0.0168,"y":5776,"c":9},{"x":-0.0168,"y":5929,"c":0},{"x":-0.0168,"y":6084,"c":1},{"x":-0.0168,"y":6241,"c":2},
{"x":-0.0166,"y":144,"c":5},{"x":-0.0166,"y":169,"c":6},{"x":-0.0166,"y":196,"c":7},{"x":-0.0166,"y":225,"c":8},{"x":-0.0166,"y":256,"c":9},{"x":-0.0166,"y":289,"c":0},{"x":-0.0166,"y":324,"c":1},{"x":-0.0166,"y":361,"c":2},{"x":-0.0166,"y":400,"c":3},{"x":-0.0166,"y":441,"c":4},{"x":-0.0166,"y":484,"c":5},{"x":-0.0166,"y":529,"c":6},{"x":-0.0166,"y":576,"c":7},{"x":-0.0166,"y":625,"c":8},{"x":-0.0166,"y":676,"c":9},{"x":-0.0166,"y":729,"c":0},{"x":-0.0166,"y":784,"c":1},{"x":-0.0166,"y":841,"c":2},{"x":-0.0166,"y":900,"c":3},{"x":-0.0166,"y":961,"c":4},{"x":-0.0166,"y":1024,"c":5},{"x":-0.0166,"y":1089,"c":6},{"x":-0.0166,"y":1156,"c":7},{"x":-0.0166,"y":1225,"c":8},{"x":-0.0166,"y":1296,"c":9},{"x":-0.0166,"y":1369,"c":0},{"x":-0.0166,"y":1444,"c":1},{"x":-0.0166,"y":1521,"c":2},{"x":-0.0166,"y":1600,"c":3},{"x":-0.0166,"y":1681,"c":4},{"x":-0.0166,"y":1764,"c":5},{"x":-0.0166,"y":1849,"c":6},{"x":-0.0166,"y":1936,"c":7},{"x":-0.0166,"y":2025,"c":8},{"x":-0.0166,"y":2209,"c":9},{"x":-0.0166,"y":2304,"c":0},{"x":-0.0166,"y":2401,"c":1},{"x":-0.0166,"y":2500,"c":2},{"x":-0.0166,"y":2601,"c":3},{"x":-0.0166,"y":2704,"c":4},{"x":-0.0166,"y":2809,"c":5},{"x":-0.0166,"y":2916,"c":6},{"x":-0.0166,"y":3025,"c":7},{"x":-0.0166,"y":3136,"c":8},{"x":-0.0166,"y":3249,"c":9},{"x":-0.0166,"y":3364,"c":0},{"x":-0.0166,"y":3481,"c":1},{"x":-0.0166,"y":3600,"c":2},{"x":-0.0166,"y":3721,"c":3},{"x":-0.0166,"y":3844,"c":4},{"x":-0.0166,"y":3969,"c":5},{"x":-0.0166,"y":4900,"c":9},{"x":-0.0166,"y":5041,"c":0},{"x":-0.0166,"y":5184,"c":1},{"x":-0.0166,"y":5329,"c":2},{"x":-0.0166,"y":5476,"c":3},{"x":-0.0166,"y":5625,"c":4},{"x":-0.0166,"y":5776,"c":5},{"x":-0.0166,"y":5929,"c":6},{"x":-0.0166,"y":6084,"c":7},{"x":-0.0166,"y":6241,"c":8},
{"x":-0.0164,"y":144,"c":7},{"x":-0.0164,"y":169,"c":8},{"x":-0.0164,"y":196,"c":9},{"x":-0.0164,"y":225,"c":0},{"x":-0.0164,"y":256,"c":1},{"x":-0.0164,"y":289,"c":2},{"x":-0.0164,"y":324,"c":3},{"x":-0.0164,"y":361,"c":4},{"x":-0.0164,"y":400,"c":5},{"x":-0.0164,"y":441,"c":6},{"x":-0.0164,"y":484,"c":7},{"x":-0.0164,"y":529,"c":8},{"x":-0.0164,"y":576,"c":9},{"x":-0.0164,"y":625,"c":0},{"x":-0.0164,"y":676,"c":1},{"x":-0.0164,"y":729,"c":2},{"x":-0.0164,"y":784,"c":3},{"x":-0.0164,"y":841,"c":4},{"x":-0.0164,"y":900,"c":5},{"x":-0.0164,"y":961,"c":6},{"x":-0.0164,"y":1024,"c":7},{"x":-0.0164,"y":1089,"c":8},{"x":-0.0164,"y":1156,"c":9},{"x":-0.0164,"y":1225,"c":0},{"x":-0.0164,"y":1296,"c":1},{"x":-0.0164,"y":1369,"c":2},{"x":-0.0164,"y":1444,"c":3},{"x":-0.0164,"y":1521,"c":4},{"x":-0.0164,"y":1600,"c":5},{"x":-0.0164,"y":1681,"c":6},{"x":-0.0164,"y":1764,"c":7},{"x":-0.0164,"y":1849,"c":8},{"x":-0.0164,"y":1936,"c":9},{"x":-0.0164,"y":2025,"c":0},{"x":-0.0164,"y":2209,"c":1},{"x":-0.0164,"y":2304,"c":2},{"x":-0.0164,"y":2401,"c":3},{"x":-0.0164,"y":2500,"c":4},{"x":-0.0164,"y":2601,"c":5},{"x":-0.0164,"y":2704,"c":6},{"x":-0.0164,"y":2809,"c":7},{"x":-0.0164,"y":2916,"c":8},{"x":-0.0164,"y":3025,"c":9},{"x":-0.0164,"y":3136,"c":0},{"x":-0.0164,"y":3249,"c":1},{"x":-0.0164,"y":3364,"c":2},{"x":-0.0164,"y":3481,"c":3},{"x":-0.0164,"y":3600,"c":4},{"x":-0.0164,"y":3721,"c":5},{"x":-0.0164,"y":3844,"c":6},{"x":-0.0164,"y":3969,"c":7},{"x":-0.0164,"y":5041,"c":8},{"x":-0.0164,"y":5329,"c":9},{"x":-0.0164,"y":5476,"c":0},{"x":-0.0164,"y":5625,"c":1},{"x":-0.0164,"y":5776,"c":2},{"x":-0.0164,"y":5929,"c":3},{"x":-0.0164,"y":6084,"c":4},{"x":-0.0164,"y":6241,"c":5},
{"x":-0.0162,"y":144,"c":9},{"x":-0.0162,"y":169,"c":0},{"x":-0.0162,"y":196,"c":1},{"x":-0.0162,"y":225,"c":2},{"x":-0.0162,"y":256,"c":3},{"x":-0.0162,"y":289,"c":4},{"x":-0.0162,"y":324,"c":5},{"x":-0.0162,"y":361,"c":6},{"x":-0.0162,"y":400,"c":7},{"x":-0.0162,"y":441,"c":8},{"x":-0.0162,"y":484,"c":9},{"x":-0.0162,"y":529,"c":0},{"x":-0.0162,"y":576,"c":1},{"x":-0.0162,"y":625,"c":2},{"x":-0.0162,"y":676,"c":3},{"x":-0.0162,"y":729,"c":4},{"x":-0.0162,"y":784,"c":5},{"x":-0.0162,"y":841,"c":6},{"x":-0.0162,"y":900,"c":7},{"x":-0.0162,"y":961,"c":8},{"x":-0.0162,"y":1024,"c":9},{"x":-0.0162,"y":1089,"c":0},{"x":-0.0162,"y":1156,"c":1},{"x":-0.0162,"y":1225,"c":2},{"x":-0.0162,"y":1296,"c":3},{"x":-0.0162,"y":1369,"c":4},{"x":-0.0162,"y":1444,"c":5},{"x":-0.0162,"y":1521,"c":6},{"x":-0.0162,"y":1600,"c":7},{"x":-0.0162,"y":1681,"c":8},{"x":-0.0162,"y":1764,"c":9},{"x":-0.0162,"y":1849,"c":0},{"x":-0.0162,"y":1936,"c":1},{"x":-0.0162,"y":2025,"c":2},{"x":-0.0162,"y":2209,"c":3},{"x":-0.0162,"y":2304,"c":4},{"x":-0.0162,"y":2401,"c":5},{"x":-0.0162,"y":2500,"c":6},{"x":-0.0162,"y":2601,"c":7},{"x":-0.0162,"y":2704,"c":8},{"x":-0.0162,"y":2809,"c":9},{"x":-0.0162,"y":2916,"c":0},{"x":-0.0162,"y":3025,"c":1},{"x":-0.0162,"y":3136,"c":2},{"x":-0.0162,"y":3249,"c":3},{"x":-0.0162,"y":3364,"c":4},{"x":-0.0162,"y":3481,"c":5},{"x":-0.0162,"y":3600,"c":6},{"x":-0.0162,"y":3721,"c":7},{"x":-0.0162,"y":3844,"c":8},{"x":-0.0162,"y":3969,"c":9},{"x":-0.0162,"y":5041,"c":0},{"x":-0.0162,"y":5329,"c":1},{"x":-0.0162,"y":5476,"c":2},{"x":-0.0162,"y":5625,"c":3},{"x":-0.0162,"y":5776,"c":4},{"x":-0.0162,"y":5929,"c":5},{"x":-0.0162,"y":6084,"c":6},{"x":-0.0162,"y":6241,"c":7}
]},
"mark":{"type":"circle","size":70,"opacity":1},
"encoding":{
"x":{"field":"x","type":"quantitative","title":"x (m)",
"scale":{"domain":[-0.0246,-0.0158],"nice":false,"zero":false},
"axis":{"values":[-0.024,-0.023,-0.022,-0.021,-0.02,-0.019,-0.018,-0.017,-0.016],"format":".3f","grid":false,"domainColor":"black","tickColor":"black","tickSize":5,"labelFontSize":14,"labelColor":"black","labelPadding":4,"labelFlush":false,"titleFontSize":28,"titleFontWeight":"normal","titleColor":"black","titlePadding":5}},
"y":{"field":"y","type":"quantitative","title":"nθ²",
"scale":{"domain":[-161,6546],"nice":false,"zero":false},
"axis":{"values":[0,1000,2000,3000,4000,5000,6000],"format":"d","grid":false,"domainColor":"black","tickColor":"black","tickSize":5,"labelFontSize":14,"labelColor":"black","labelPadding":4,"labelFlush":false,"titleFontSize":28,"titleFontWeight":"normal","titleFontStyle":"italic","titleColor":"black","titlePadding":8}},
"color":{"field":"c","type":"nominal","legend":null,
"scale":{"domain":[0,1,2,3,4,5,6,7,8,9],"range":["#1f77b4","#ff7f0e","#2ca02c","#d62728","#9467bd","#8c564b","#e377c2","#7f7f7f","#bcbd22","#17becf"]}}
}
}
